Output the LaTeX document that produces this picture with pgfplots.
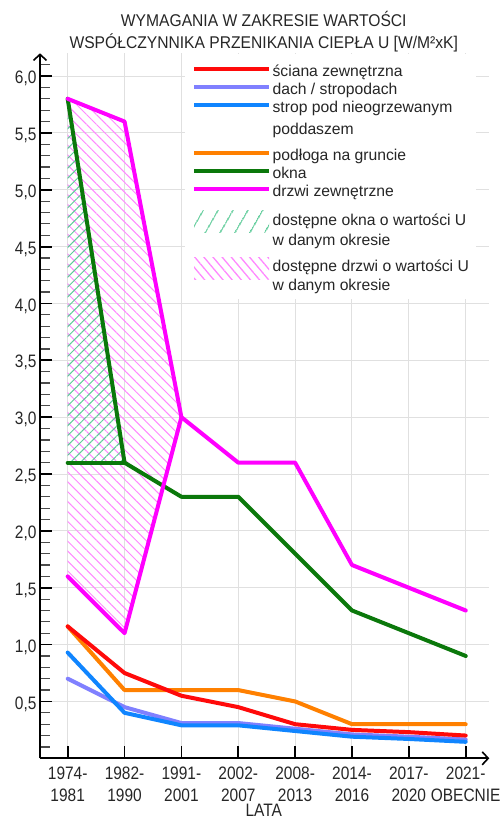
\documentclass[border=0pt]{standalone}
\usepackage{fontspec}
\setmainfont{Liberation Sans}
\newfontfamily\tickfam{Liberation Sans}[FakeStretch=0.86]
\newfontfamily\titlefam{Liberation Sans}[FakeStretch=0.92]
\usepackage{pgfplots}
\pgfplotsset{compat=1.18}
\usetikzlibrary{patterns.meta,arrows.meta}
\newcommand\tickfont{\tickfam\fontsize{18}{21.7}\selectfont}
\newcommand\titlefont{\titlefam\fontsize{17}{22}\selectfont}
\newcommand\legendfont{\fontsize{15.7}{18.8}\selectfont}
\newcommand\tl[2]{\vtop{\baselineskip=21.7pt\halign{\hfil##\hfil\cr#1\cr#2\cr}}}
\newcommand\TitleText{\vtop{\baselineskip=22pt\halign{\hfil##\hfil\cr WYMAGANIA W ZAKRESIE WARTOŚCI\cr WSPÓŁCZYNNIKA PRZENIKANIA CIEPŁA U [W/M²xK]\cr}}}
\newcommand\LE[3]{\rule[-#2pt]{0pt}{\dimexpr #1pt + #2pt\relax}#3}
\newcommand\TwoL[3]{\vtop{\baselineskip=#1pt\hbox{#2}\hbox{#3}}}
\definecolor{cRed}{HTML}{FF0A0A}
\definecolor{cLav}{HTML}{8080FF}
\definecolor{cBlue}{HTML}{1085FF}
\definecolor{cOrange}{HTML}{FF8000}
\definecolor{cGreen}{HTML}{0B780B}
\definecolor{cMag}{HTML}{FF00FF}
\definecolor{hGreen}{HTML}{5CCB98}
\definecolor{hMag}{HTML}{FF88FF}
\pgfplotsset{
  legline/.style 2 args={legend image code/.code={\draw[#1,line width=4pt] (0pt,#2pt) -- (75pt,#2pt);}},
  leghatch/.style n args={5}{legend image code/.code={\path[draw=none,pattern={Lines[angle=#1,distance=#2pt,line width=1.3pt]},pattern color=#3] (0pt,#4pt) rectangle (75pt,#5pt);}},
}
\begin{document}
\begin{tikzpicture}
\useasboundingbox (-40pt,-61.7pt) rectangle (461pt,758.3pt);
\begin{axis}[
  at={(0,0)}, anchor=south west,
  scale only axis, width=449.3pt, height=705pt,
  xmin=-0.487, xmax=7.415, ymin=0, ymax=6.2,
  axis lines=left,
  axis line style={line width=2pt, -{Straight Barb[length=6pt,width=13pt,line width=1.6pt]}},
  no markers,
  xtick={0,1,2,3,4,5,6,7},
  xticklabels={\tl{1974-}{1981},\tl{1982-}{1990},\tl{1991-}{2001},\tl{2002-}{2007},\tl{2008-}{2013},\tl{2014-}{2016},\tl{2017-}{2020},\tl{2021-}{OBECNIE}},
  ytick={0.5,1,1.5,2,2.5,3,3.5,4,4.5,5,5.5,6},
  minor ytick={0.1,0.2,0.3,0.4,0.6,0.7,0.8,0.9,1.1,1.2,1.3,1.4,1.6,1.7,1.8,1.9,2.1,2.2,2.3,2.4,2.6,2.7,2.8,2.9,3.1,3.2,3.3,3.4,3.6,3.7,3.8,3.9,4.1,4.2,4.3,4.4,4.6,4.7,4.8,4.9,5.1,5.2,5.3,5.4,5.6,5.7,5.8,5.9,6.1},
  tick align=inside,
  major tick length=12pt, minor tick length=10pt,
  every major tick/.append style={black, line width=1.8pt},
  every minor tick/.append style={black!70, line width=1.2pt},
  grid=major,
  major grid style={black!12, line width=1pt},
  /pgf/number format/assume math mode=true,
  yticklabel style={font=\tickfont, text=black!85, yshift=-2.5pt, /pgf/number format/.cd, fixed, fixed zerofill, precision=1, use comma},
  xticklabel style={font=\tickfont, text=black!85, anchor=base, yshift=-21pt},
  xlabel={LATA},
  xlabel style={at={(axis description cs:0.498,-0.083)}, anchor=base, font=\tickfont, text=black!85, inner sep=0pt},
  title={\TitleText},
  title style={at={(axis description cs:0.498,1.0299)}, anchor=base, yshift=0pt, font=\titlefont, text=black!85, inner sep=0pt},
  legend cell align=left,
  legend style={at={(axis description cs:0.3225,1)}, anchor=north west, draw=none, fill=white,
    inner xsep=7pt, inner ysep=0pt, row sep=0pt, column sep=1.5pt, font=\legendfont, text=black!85,
    nodes={inner sep=0pt, text depth=, text height=}},
]
% hatched areas
\addplot[forget plot, draw=none, pattern={Lines[angle=-45,distance=7pt,line width=1pt]}, pattern color=hMag]
  coordinates {(0,5.8) (1,5.6) (2,3.0) (1,1.1) (0,1.6)};
\addplot[forget plot, draw=none, pattern={Lines[angle=45,distance=7pt,line width=1pt]}, pattern color=hGreen]
  coordinates {(0,2.6) (0,5.8) (1,2.6)};
% lines
\addplot[forget plot, cLav, line width=4pt, line join=round, line cap=round]
  coordinates {(0,0.70) (1,0.45) (2,0.31) (3,0.31) (4,0.26) (5,0.21) (6,0.19) (7,0.165)};
\addplot[forget plot, cBlue, line width=4pt, line join=round, line cap=round]
  coordinates {(0,0.93) (1,0.40) (2,0.29) (3,0.29) (4,0.24) (5,0.19) (6,0.17) (7,0.145)};
\addplot[forget plot, cOrange, line width=4pt, line join=round, line cap=round]
  coordinates {(0,1.16) (1,0.60) (2,0.60) (3,0.60) (4,0.50) (5,0.30) (6,0.30) (7,0.30)};
\addplot[forget plot, cRed, line width=4pt, line join=round, line cap=round]
  coordinates {(0,1.16) (1,0.75) (2,0.55) (3,0.45) (4,0.30) (5,0.25) (6,0.23) (7,0.20)};
\addplot[forget plot, cGreen, line width=4pt, line join=round, line cap=round]
  coordinates {(0,5.8) (1,2.6) (2,2.3) (3,2.3) (4,1.8) (5,1.3) (6,1.1) (7,0.9)};
\addplot[forget plot, cGreen, line width=4pt, line join=round, line cap=round]
  coordinates {(0,2.6) (1,2.6)};
\addplot[forget plot, cMag, line width=4pt, line join=round, line cap=round]
  coordinates {(0,5.8) (1,5.6) (2,3.0) (3,2.6) (4,2.6) (5,1.7) (6,1.5) (7,1.3)};
\addplot[forget plot, cMag, line width=4pt, line join=round, line cap=round]
  coordinates {(0,1.6) (1,1.1) (2,3.0)};
% legend
\addlegendimage{legline={cRed}{-1.6}}
\addlegendentry{\LE{23.2}{5}{ściana zewnętrzna}}
\addlegendimage{legline={cLav}{3.5}}
\addlegendentry{\LE{13}{5}{dach / stropodach}}
\addlegendimage{legline={cBlue}{18.55}}
\addlegendentry{\LE{12.6}{34.7}{\TwoL{22.5}{strop pod nieogrzewanym}{poddaszem}}}
\addlegendimage{legline={cOrange}{3.5}}
\addlegendentry{\LE{13}{5}{podłoga na gruncie}}
\addlegendimage{legline={cGreen}{3.35}}
\addlegendentry{\LE{13.3}{5}{okna}}
\addlegendimage{legline={cMag}{3.65}}
\addlegendentry{\LE{12.7}{5}{drzwi zewnętrzne}}
\addlegendimage{leghatch={60}{13}{hGreen}{-5.25}{16.75}}
\addlegendentry{\LE{24.2}{28.3}{\TwoL{20}{dostępne okna o wartości U}{w danym okresie}}}
\addlegendimage{leghatch={-50}{7}{hMag}{-3.5}{18.5}}
\addlegendentry{\LE{18.3}{26.7}{\TwoL{18.4}{dostępne drzwi o wartości U}{w danym okresie}}}
\end{axis}
\end{tikzpicture}
\end{document}
